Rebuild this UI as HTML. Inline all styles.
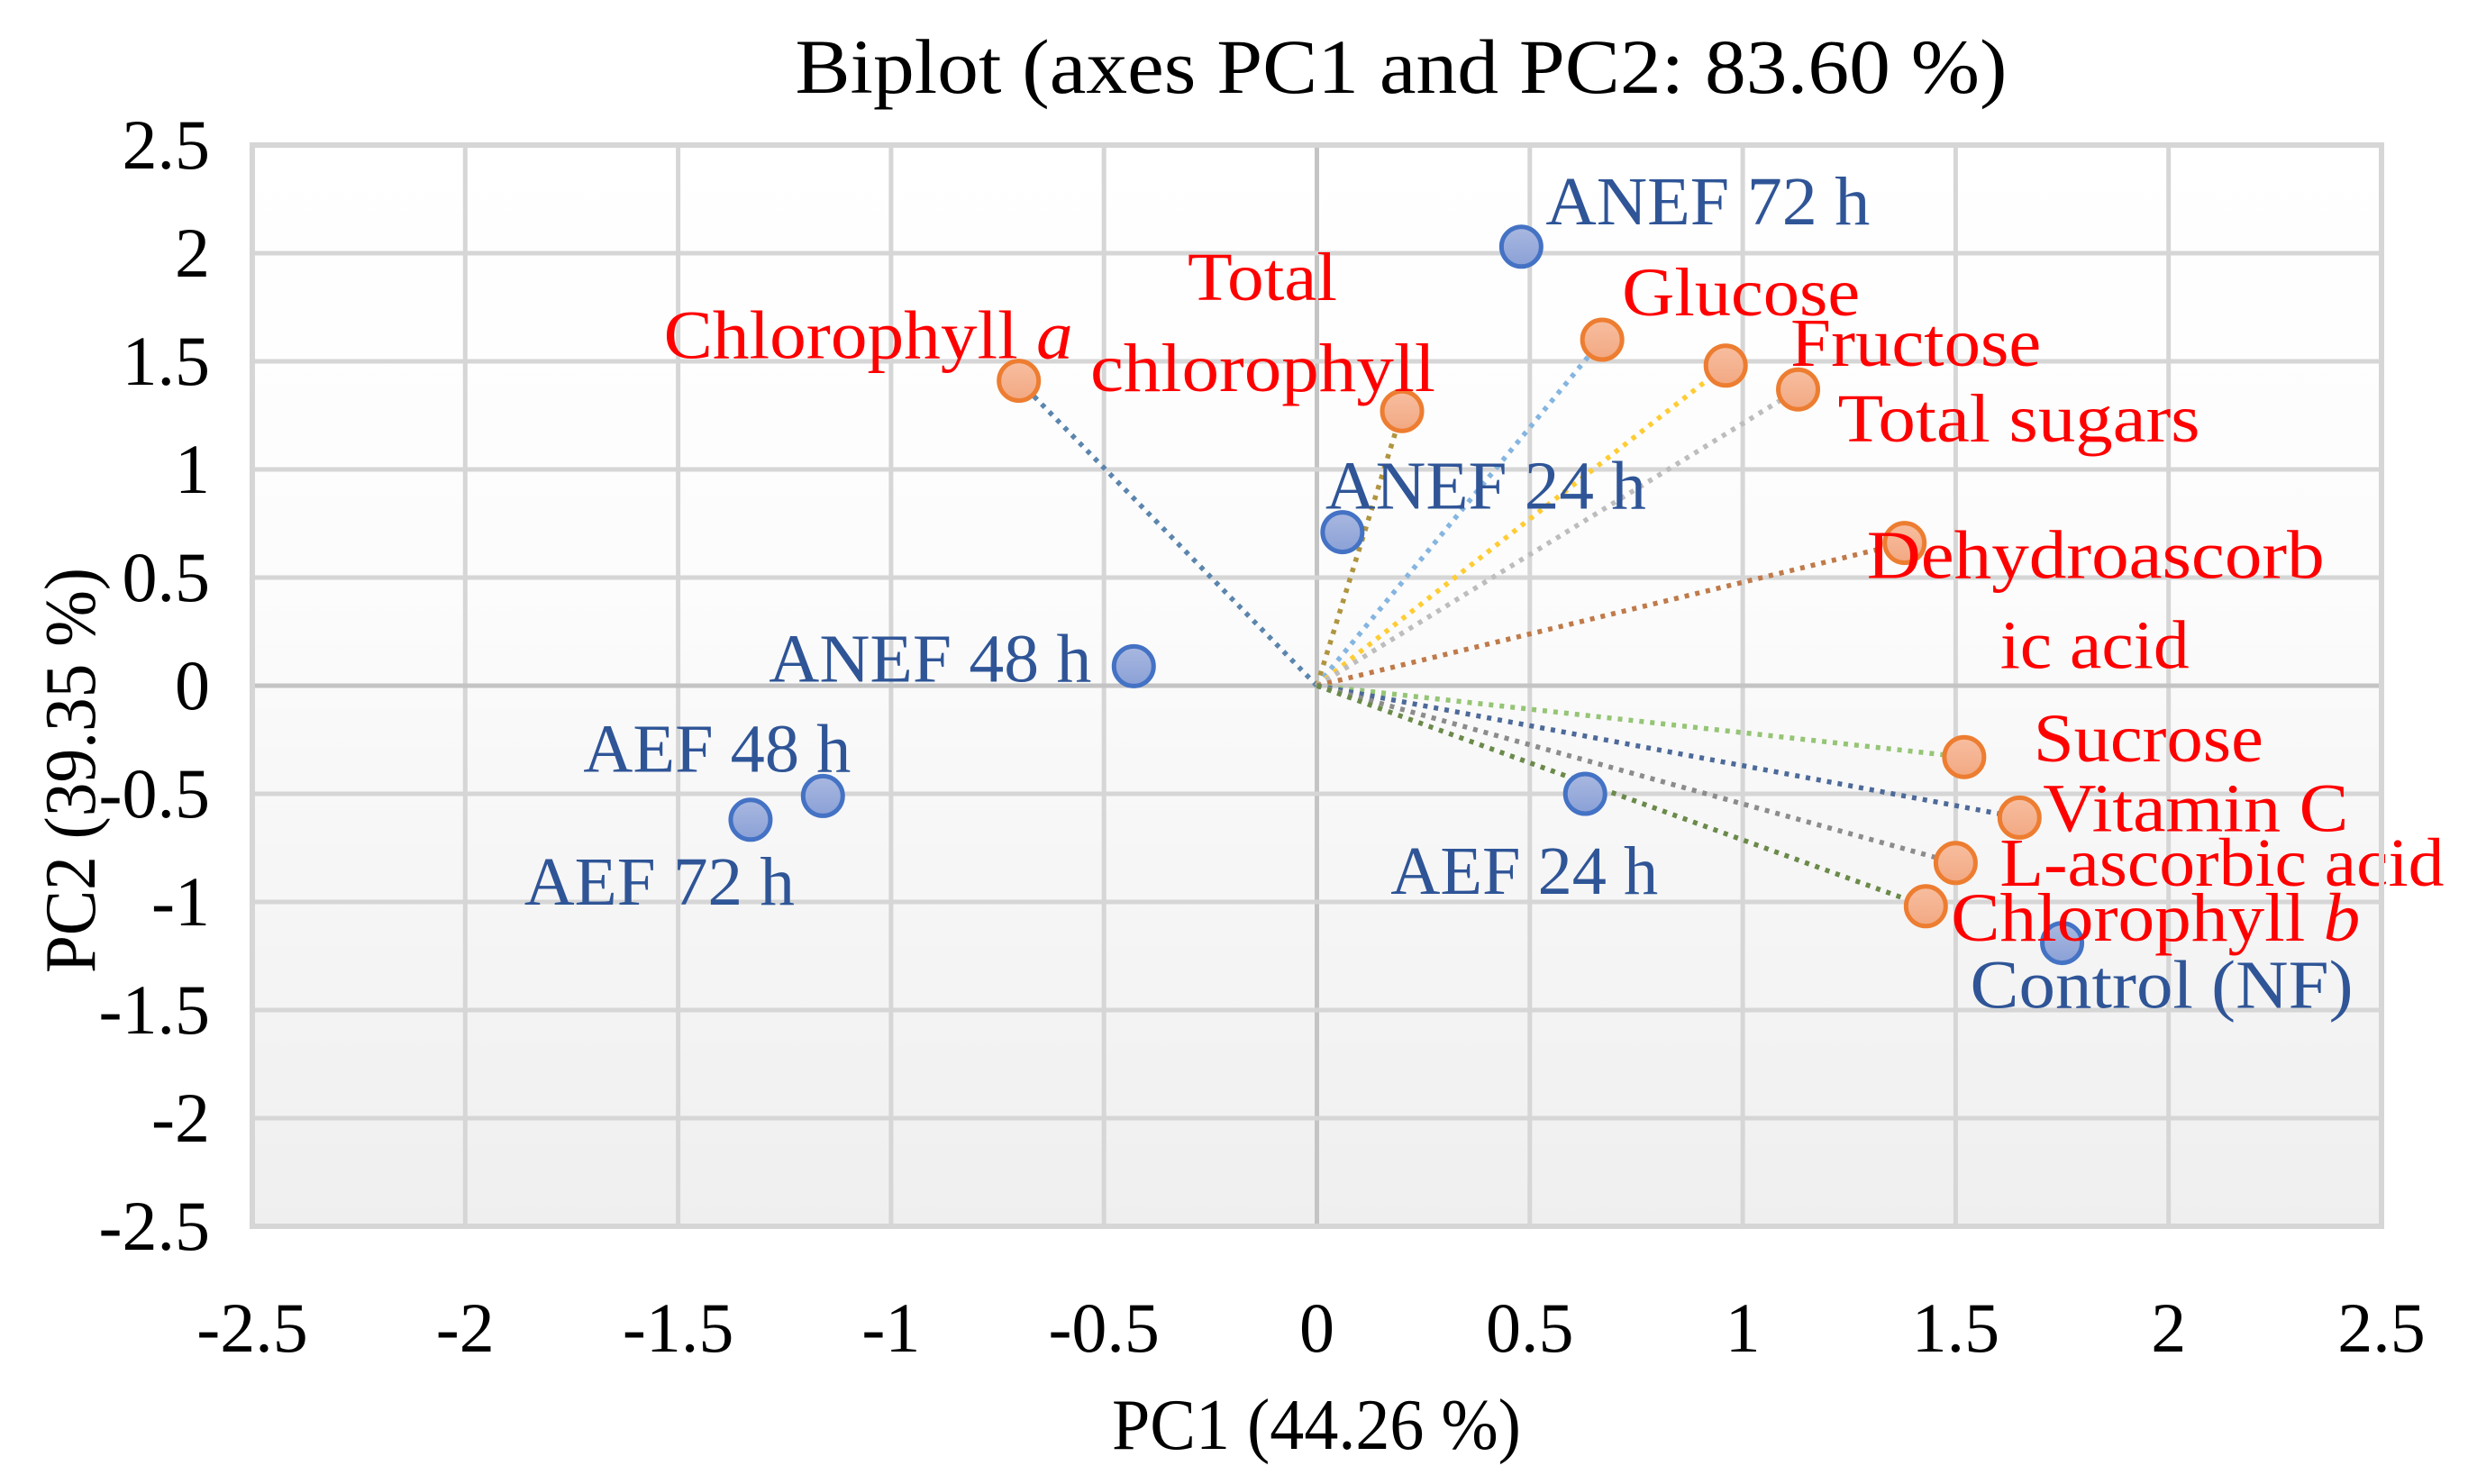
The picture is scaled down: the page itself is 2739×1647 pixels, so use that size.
<!DOCTYPE html>
<html><head><meta charset="utf-8"><style>
html,body{margin:0;padding:0;background:#fff;}
svg{display:block;font-family:"Liberation Serif",serif;}
</style></head><body>
<svg id="chart" width="2739" height="1647" viewBox="0 0 2739 1647" xmlns="http://www.w3.org/2000/svg">
<defs>
<linearGradient id="bg" x1="0" y1="0" x2="0" y2="1">
<stop offset="0" stop-color="#ffffff"/><stop offset="0.4" stop-color="#fcfcfc"/><stop offset="1" stop-color="#efefef"/>
</linearGradient>
<linearGradient id="bfill" x1="0" y1="0" x2="0" y2="1"><stop offset="0" stop-color="#a9b8e0"/><stop offset="1" stop-color="#8aa0d6"/></linearGradient>
<linearGradient id="ofill" x1="0" y1="0" x2="0" y2="1"><stop offset="0" stop-color="#f7bea0"/><stop offset="1" stop-color="#f2a882"/></linearGradient>
</defs>
<g id="grid"></g>
<g id="vectors"></g>
<g id="marks"></g>
<g id="labels"></g>
<g id="axes"></g>
</svg>
<script>
// ---- data ----
const obsNames = ["ANEF 72 h","ANEF 24 h","ANEF 48 h","AEF 48 h","AEF 72 h","AEF 24 h","Control (NF)"];
const obsPC1 = [0.48, 0.06, -0.43, -1.16, -1.33, 0.63, 1.75];
const obsPC2 = [2.03, 0.71, 0.09, -0.51, -0.62, -0.50, -1.19];
const varNames = ["Chlorophyll a","Total chlorophyll","Glucose","Fructose","Total sugars","Dehydroascorbic acid","Sucrose","Vitamin C","L-ascorbic acid","Chlorophyll b"];
const varPC1 = [-0.70, 0.20, 0.67, 0.96, 1.13, 1.38, 1.52, 1.65, 1.50, 1.43];
const varPC2 = [1.41, 1.27, 1.60, 1.48, 1.37, 0.66, -0.33, -0.61, -0.82, -1.02];
const xTicks = ["-2.5","-2","-1.5","-1","-0.5","0","0.5","1","1.5","2","2.5"];
const yTicks = ["2.5","2","1.5","1","0.5","0","-0.5","-1","-1.5","-2","-2.5"];

// ---- styling ----
const L=280,R=2643,T=161,B=1361,XMIN=-2.5,XMAX=2.5,YMIN=-2.5,YMAX=2.5;
const sx=v=>L+(v-XMIN)/(XMAX-XMIN)*(R-L);
const sy=v=>B-(v-YMIN)/(YMAX-YMIN)*(B-T);
const NS="http://www.w3.org/2000/svg";
function mk(tag,attrs,parent){const e=document.createElementNS(NS,tag);for(const k in attrs)e.setAttribute(k,attrs[k]);parent.appendChild(e);return e;}
const vecColors=["#5b85ad","#b09540","#85b5e0","#ffcc33","#bdbdbd","#c07a4a","#95c575","#4d6a9a","#8c8c8c","#6b8a4a"];
const obsLabel=[[27,-25,"start",360],[-19,-26,"start",356],[-47,17,"end",358],[-266,-27,"start",297],[-251,94,"start",300],[-216,111,"start",297],[-102,72,"start",425]];
const varLabel=[
 [[-394,-25,"start",454,"Chlorophyll ","a"]],
 [[-238,-123,"start",166,"Total",""],[-346,-22,"start",383,"chlorophyll",""]],
 [[22,-27,"start",264,"Glucose",""]],
 [[72,0,"start",278,"Fructose",""]],
 [[44,58,"start",402,"Total sugars",""]],
 [[-42,39,"start",508,"Dehydroascorb",""],[106,139,"start",210,"ic acid",""]],
 [[77,5,"start",255,"Sucrose",""]],
 [[26,15,"start",339,"Vitamin C",""]],
 [[49,25,"start",493,"L-ascorbic acid",""]],
 [[28,38,"start",454,"Chlorophyll ","b"]]
];
const grid=document.getElementById('grid'),vec=document.getElementById('vectors'),marks=document.getElementById('marks'),labs=document.getElementById('labels'),axes=document.getElementById('axes');

const bgRect=mk('rect',{x:L,y:T,width:R-L,height:B-T,fill:'url(#bg)'},grid);


xTicks.forEach((t,i)=>{
  const v=parseFloat(t),x=sx(v);
  const ln=mk('line',{x1:x,y1:T,x2:x,y2:B,stroke:v===0?'#c4c4c4':'#d6d6d6','stroke-width':5},grid);
  
  
  const tx=mk('text',{x:x,y:1500,'text-anchor':'middle','font-size':78,fill:'#000'},axes);
  tx.textContent=t;
  
  
});
yTicks.forEach((t,i)=>{
  const v=parseFloat(t),y=sy(v);
  const ln=mk('line',{x1:L,y1:y,x2:R,y2:y,stroke:v===0?'#c4c4c4':'#d6d6d6','stroke-width':5},grid);
  
  
  const tx=mk('text',{x:233,y:y+26,'text-anchor':'end','font-size':78,fill:'#000'},axes);
  tx.textContent=t;
  
  
});
const x0=sx(0),y0=sy(0);
varNames.forEach((n,i)=>{
  const ln=mk('line',{x1:x0,y1:y0,x2:sx(varPC1[i]),y2:sy(varPC2[i]),stroke:vecColors[i],'stroke-width':5.5,'stroke-dasharray':'5 7'},vec);
  
  
});
obsNames.forEach((n,i)=>{
  const px=sx(obsPC1[i]),py=sy(obsPC2[i]);
  const c=mk('circle',{cx:px,cy:py,r:22,fill:'url(#bfill)',stroke:'#4472c4','stroke-width':5},marks);
  
  
  const o=obsLabel[i];
  const t=mk('text',{x:px+o[0],y:py+o[1],'text-anchor':o[2],'font-size':76,fill:'#2f5597',textLength:o[3],lengthAdjust:'spacingAndGlyphs'},labs);
  t.textContent=n;
  
  
});
varNames.forEach((n,i)=>{
  const px=sx(varPC1[i]),py=sy(varPC2[i]);
  const c=mk('circle',{cx:px,cy:py,r:22,fill:'url(#ofill)',stroke:'#ed7d31','stroke-width':5},marks);
  
  
  varLabel[i].forEach(o=>{
    const t=mk('text',{x:px+o[0],y:py+o[1],'text-anchor':o[2],'font-size':76,fill:'#ff0000',textLength:o[3],lengthAdjust:'spacingAndGlyphs'},labs);
    
    
    t.appendChild(document.createTextNode(o[4]));
    if(o[5]){const s=mk('tspan',{'font-style':'italic'},t);s.textContent=o[5];}
  });
});
const border=mk('rect',{x:L,y:T,width:R-L,height:B-T,fill:'none',stroke:'#d6d6d6','stroke-width':6},axes);


const title=mk('text',{x:1555,y:103,'text-anchor':'middle','font-size':86,fill:'#000',textLength:1345,lengthAdjust:'spacingAndGlyphs'},axes);
title.textContent='Biplot (axes PC1 and PC2: 83.60 %)';


const xt=mk('text',{x:1461,y:1608,'text-anchor':'middle','font-size':80,fill:'#000',textLength:454,lengthAdjust:'spacingAndGlyphs'},axes);
xt.textContent='PC1 (44.26 %)';


const yt=mk('text',{x:0,y:0,'text-anchor':'middle','font-size':80,fill:'#000',textLength:450,lengthAdjust:'spacingAndGlyphs',transform:'translate(105,855) rotate(-90)'},axes);
yt.textContent='PC2 (39.35 %)';


</script>
</body></html>
